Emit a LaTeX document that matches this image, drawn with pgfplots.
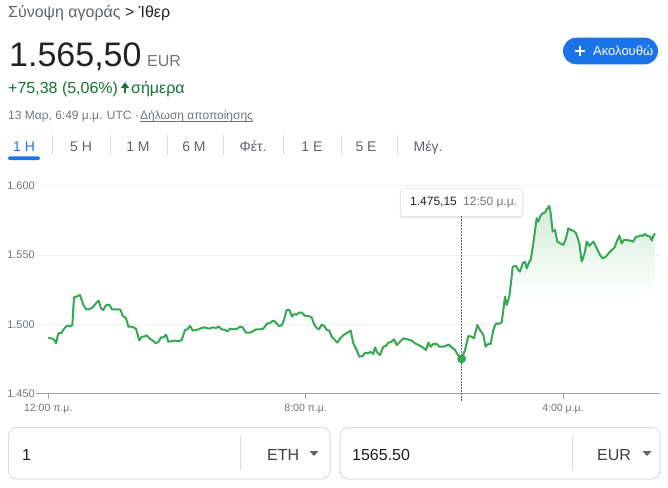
\documentclass[border=0pt]{standalone}
\usepackage{pgfplots}
\pgfplotsset{compat=1.18}
\usepackage{pgfplotstable}
\usepackage{fontspec}
\setmainfont{Liberation Sans}
\usetikzlibrary{calc}
\definecolor{darkt}{HTML}{202124}
\definecolor{grayt}{HTML}{5F6368}
\definecolor{labc}{HTML}{70757A}
\definecolor{greent}{HTML}{137333}
\definecolor{bluec}{HTML}{1A73E8}
\definecolor{linec}{HTML}{34A853}
\definecolor{gridc}{HTML}{EEF0F1}
\definecolor{axisc}{HTML}{9AA0A6}
\definecolor{sepc}{HTML}{DADCE0}
\definecolor{shadec}{HTML}{D4ECDA}
\definecolor{boxt}{HTML}{3C4043}
\newcommand{\fs}[1]{\fontsize{#1}{#1}\selectfont}

\pgfplotstableread{
h v
0.000 1490.4
0.125 1489.7
0.188 1488.7
0.240 1486.3
0.312 1493.6
0.395 1493.6
0.467 1496.0
0.550 1498.4
0.623 1499.1
0.675 1498.4
0.747 1499.6
0.799 1519.5
0.882 1520.0
0.985 1521.2
1.089 1514.0
1.172 1510.9
1.275 1510.9
1.379 1512.3
1.483 1515.2
1.566 1517.1
1.638 1511.6
1.711 1510.4
1.794 1513.8
1.897 1514.2
1.980 1510.9
2.073 1510.9
2.177 1510.9
2.249 1510.4
2.312 1506.1
2.415 1504.4
2.488 1498.4
2.592 1498.4
2.726 1496.9
2.830 1488.3
2.902 1491.1
2.975 1491.1
3.058 1492.1
3.141 1490.0
3.244 1488.3
3.348 1486.3
3.421 1487.3
3.503 1490.6
3.576 1490.6
3.659 1492.6
3.732 1487.5
3.835 1487.8
3.939 1488.3
4.042 1487.8
4.146 1488.7
4.250 1496.0
4.322 1496.4
4.405 1498.9
4.488 1495.5
4.612 1496.0
4.716 1496.9
4.840 1497.9
4.923 1497.4
5.006 1496.9
5.130 1497.9
5.213 1497.4
5.296 1498.4
5.389 1496.4
5.493 1496.0
5.576 1495.0
5.648 1496.9
5.752 1496.4
5.876 1496.9
5.959 1498.4
6.042 1497.9
6.146 1494.0
6.270 1494.0
6.353 1495.0
6.457 1496.4
6.581 1496.4
6.684 1496.9
6.788 1500.3
6.912 1501.3
6.995 1502.7
7.078 1501.3
7.161 1498.9
7.254 1499.3
7.326 1503.2
7.409 1510.4
7.492 1510.4
7.575 1505.6
7.637 1507.5
7.720 1507.0
7.803 1508.5
7.886 1508.5
7.979 1506.1
8.083 1506.1
8.186 1505.1
8.258 1500.3
8.341 1497.4
8.414 1496.4
8.497 1499.8
8.580 1498.9
8.652 1496.0
8.735 1495.5
8.808 1491.1
8.911 1488.7
8.984 1486.8
9.067 1489.7
9.171 1492.3
9.275 1493.6
9.399 1495.5
9.482 1486.3
9.585 1481.5
9.668 1476.7
9.772 1477.2
9.845 1479.6
9.948 1479.1
10.021 1480.3
10.103 1478.6
10.155 1483.4
10.228 1479.6
10.311 1477.9
10.414 1483.9
10.497 1484.4
10.570 1486.8
10.674 1487.5
10.746 1489.2
10.829 1485.1
10.933 1487.5
11.036 1489.9
11.161 1489.2
11.296 1488.3
11.400 1486.3
11.503 1485.1
11.607 1483.9
11.741 1481.5
11.814 1486.8
11.886 1483.9
11.969 1485.9
12.073 1485.9
12.156 1483.9
12.260 1483.9
12.363 1484.4
12.436 1485.6
12.539 1483.5
12.643 1481.5
12.715 1478.6
12.798 1476.2
12.850 1475.15
12.953 1481.5
13.057 1491.6
13.160 1491.1
13.233 1489.9
13.336 1499.6
13.419 1496.0
13.523 1492.3
13.595 1483.9
13.678 1485.9
13.751 1485.9
13.834 1496.0
13.917 1500.8
13.989 1500.3
14.093 1501.3
14.145 1510.4
14.197 1520.0
14.248 1514.0
14.331 1520.0
14.404 1534.4
14.435 1541.6
14.538 1542.1
14.611 1539.2
14.663 1538.0
14.746 1544.0
14.818 1545.2
14.870 1540.4
14.953 1545.2
14.994 1546.4
15.077 1558.5
15.181 1576.5
15.233 1574.1
15.285 1577.7
15.367 1580.1
15.440 1580.6
15.492 1583.0
15.575 1585.4
15.616 1580.1
15.678 1566.9
15.751 1568.1
15.823 1559.7
15.906 1558.5
16.010 1557.3
16.093 1562.1
16.166 1569.3
16.238 1568.1
16.321 1567.6
16.404 1565.7
16.508 1558.5
16.580 1545.3
16.632 1548.4
16.684 1552.5
16.736 1559.7
16.819 1556.6
16.891 1558.5
16.943 1559.7
17.026 1556.1
17.098 1552.5
17.171 1549.3
17.233 1547.7
17.306 1548.4
17.378 1550.1
17.461 1552.5
17.544 1554.2
17.606 1555.6
17.668 1559.7
17.751 1563.8
17.824 1558.5
17.896 1560.9
17.979 1560.9
18.083 1560.4
18.186 1559.7
18.269 1563.3
18.342 1563.3
18.414 1564.2
18.476 1563.8
18.549 1565.2
18.621 1563.8
18.704 1563.3
18.756 1560.4
18.808 1564.2
18.860 1565.5
}\ethdata

\begin{document}
\begin{tikzpicture}[x=1pt,y=1pt]
\path[use as bounding box, fill=white] (0,0) rectangle (668,-487);

% header
\node[anchor=base west, inner sep=0pt, font=\fs{16}] at (8,-17.3) {\textcolor{grayt}{Σύνοψη αγοράς} \textcolor{darkt}{> Ίθερ}};
\node[anchor=base west, inner sep=0pt, font=\fs{34}, text=darkt] at (9,-66.7) {1.565,50};
\node[anchor=base west, inner sep=0pt, font=\fs{16}, text=labc] at (147,-66) {EUR};
\node[anchor=base west, inner sep=0pt, font=\fs{16}, text=greent] at (8,-93.3) {+75,38 (5,06\%)};
\fill[greent] (120.8,-88) -- (125,-82.3) -- (129.2,-88) -- cycle;
\fill[greent] (123.9,-87.5) rectangle (126.1,-93.3);
\node[anchor=base west, inner sep=0pt, font=\fs{16}, text=greent] at (131,-93.3) {σήμερα};
\node[anchor=base west, inner sep=0pt, font=\fs{12}, text=labc] at (8,-119) {13 Μαρ, 6:49 μ.μ. UTC ·};
\node[anchor=base west, inner sep=0pt, font=\fs{12}, text=labc] (disc) at (140,-119) {Δήλωση αποποίησης};
\draw[labc, line width=0.6pt] ($(disc.base west)+(0,-1.8)$) -- ($(disc.base east)+(0,-1.8)$);

% button
\fill[bluec, rounded corners=13.3pt] (563,-37.7) rectangle (658,-64.3);
\draw[white, line width=1.8pt] (575,-51) -- (585,-51) (580,-46) -- (580,-56);
\node[anchor=base west, inner sep=0pt, font=\fs{13}, text=white] at (593,-55.5) {Ακολουθώ};

% tabs
\foreach \t/\xx in {5 Η/81, 1 Μ/138, 6 Μ/194, Φέτ./253, 1 Ε/312, 5 Ε/366, Μέγ./428}
  \node[anchor=base, inner sep=0pt, font=\fs{14}, text=grayt] at (\xx,-151) {\t};
\node[anchor=base, inner sep=0pt, font=\fs{14}, text=bluec] at (24,-151) {1 Η};
\fill[bluec, rounded corners=1.5pt] (8,-156.3) rectangle (40,-160);
\foreach \xx in {52,110,167,223,283,341,397}
  \draw[sepc, line width=1pt] (\xx,-135) -- (\xx,-155);

% chart
\begin{axis}[
  at={(36pt,-393.7pt)}, anchor=south west,
  scale only axis, width=624pt, height=208pt,
  xmin=-0.382, xmax=19.015, ymin=1450, ymax=1600,
  axis line style={draw=none},
  xtick={0,8,16}, xticklabels={12:00 π.μ., 8:00 π.μ., 4:00 μ.μ.},
  ytick={1450,1500,1550,1600}, yticklabels={1.450,1.500,1.550,1.600},
  ymajorgrids, grid style={draw=gridc, line width=0.8pt},
  xtick pos=left, ytick pos=left, ytick style={draw=none},
  xtick style={draw=axisc, line width=1pt},
  tick align=outside, major tick length=5pt,
  xticklabel style={font=\fs{10.5}, text=labc, inner sep=0pt, yshift=-5pt},
  yticklabel style={font=\fs{11}, text=labc, inner sep=1pt, xshift=5pt},
  clip=false,
]
\addplot[draw=none, top color=shadec, bottom color=white, middle color=white,
  restrict x to domain=12.85:19] table[x=h, y=v] {\ethdata}
  -- (axis cs:18.86,1450) -- (axis cs:12.85,1450) -- cycle;
\draw[axisc, line width=1.3pt] (axis cs:-0.382,1450) -- (axis cs:19.015,1450);
\draw[grayt, line width=0.8pt, dash pattern=on 1.2pt off 1.8pt] (axis cs:12.85,1445) -- (axis cs:12.85,1578);
\addplot[linec, line width=2pt, line join=round, mark=none] table[x=h, y=v] {\ethdata};
\addplot[only marks, mark=*, mark size=4.2pt, color=linec] coordinates {(12.85,1475.15)};
\end{axis}

% tooltip
\fill[black, opacity=0.06, rounded corners=3pt] (399.5,-188) rectangle (523.5,-218.5);
\fill[black, opacity=0.06, rounded corners=2.5pt] (400.3,-188.5) rectangle (522.7,-217.3);
\fill[white, rounded corners=2pt] (401,-189) rectangle (522,-216);
\node[anchor=base west, inner sep=0pt, font=\fs{12}, text=darkt] at (410,-205.7) {1.475,15};
\node[anchor=base west, inner sep=0pt, font=\fs{12}, text=labc] at (463,-205.7) {12:50 μ.μ.};

% converter boxes
\draw[sepc, line width=1pt, rounded corners=8pt] (8.5,-427.5) rectangle (330,-479);
\draw[sepc, line width=1pt] (240,-436) -- (240,-470);
\draw[sepc, line width=1pt, rounded corners=8pt] (340,-427.5) rectangle (660,-479);
\draw[sepc, line width=1pt] (572,-436) -- (572,-470);
\node[anchor=base west, inner sep=0pt, font=\fs{16}, text=darkt] at (22,-460) {1};
\node[anchor=base west, inner sep=0pt, font=\fs{16}, text=boxt] at (267,-460) {ETH};
\fill[grayt] (309.5,-451) -- (318.5,-451) -- (314,-456) -- cycle;
\node[anchor=base west, inner sep=0pt, font=\fs{16}, text=darkt] at (352,-460) {1565.50};
\node[anchor=base west, inner sep=0pt, font=\fs{16}, text=boxt] at (597,-460) {EUR};
\fill[grayt] (642.5,-451) -- (651.5,-451) -- (647,-456) -- cycle;
\end{tikzpicture}
\end{document}
